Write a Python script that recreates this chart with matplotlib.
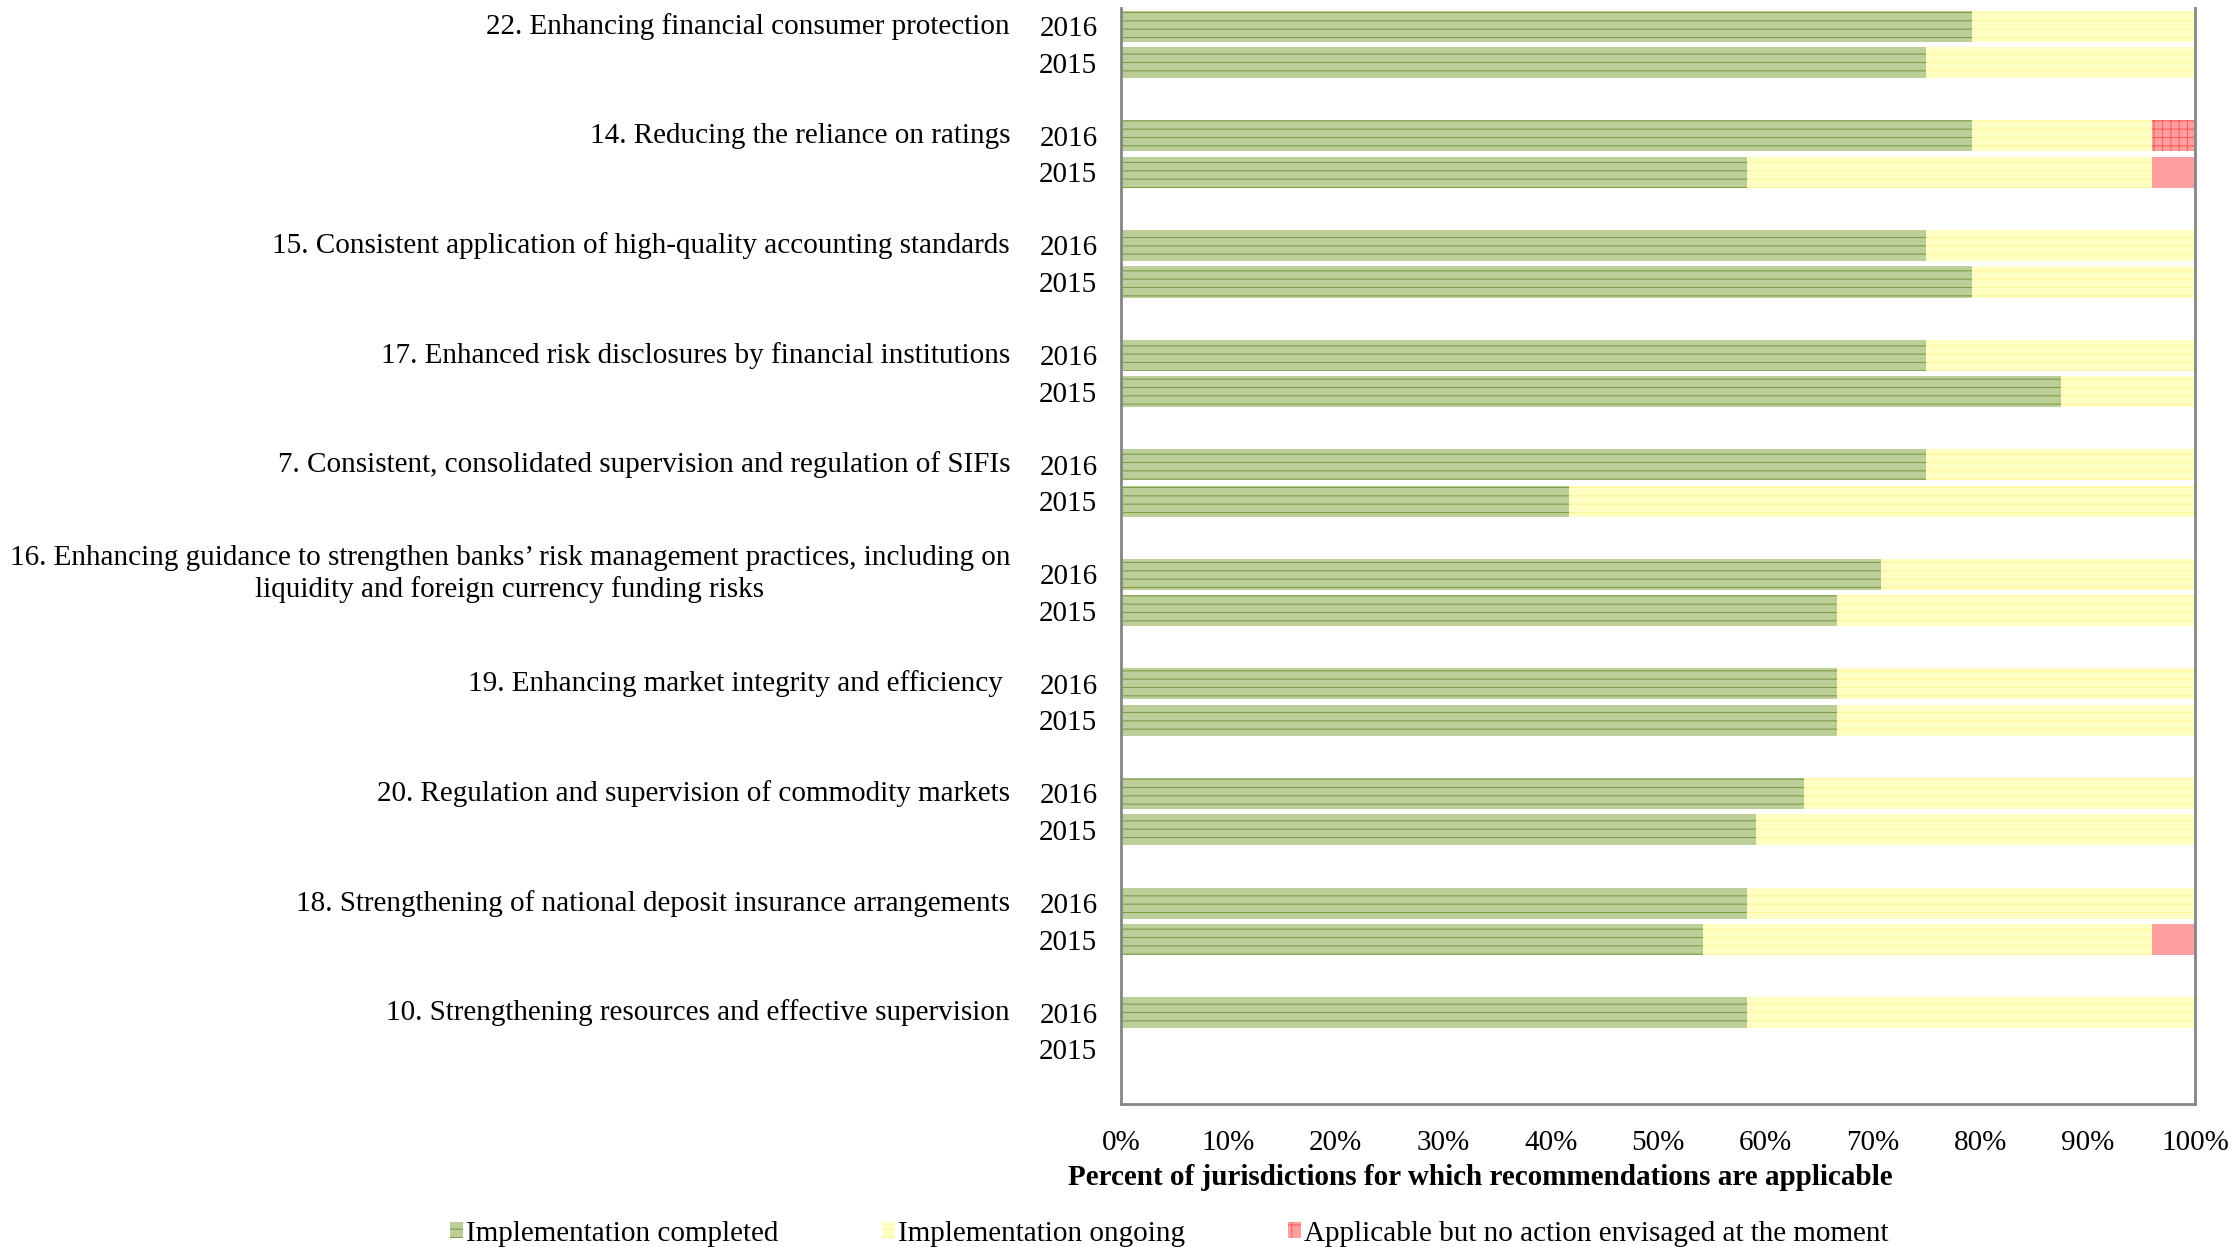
import numpy as np
import matplotlib.pyplot as plt
from matplotlib.patches import Patch
import matplotlib.transforms as mtransforms

plt.rcParams['font.family'] = ['Liberation Serif', 'DejaVu Serif']
plt.rcParams['hatch.linewidth'] = 0.8

categories = [
    '22. Enhancing financial consumer protection',
    '14. Reducing the reliance on ratings',
    '15. Consistent application of high-quality accounting standards',
    '17. Enhanced risk disclosures by financial institutions',
    '7. Consistent, consolidated supervision and regulation of SIFIs',
    '16. Enhancing guidance to strengthen banks\u2019 risk management practices, including on\nliquidity and foreign currency funding risks',
    '19. Enhancing market integrity and efficiency ',
    '20. Regulation and supervision of commodity markets',
    '18. Strengthening of national deposit insurance arrangements',
    '10. Strengthening resources and effective supervision',
]
years = ['2016', '2015']

# percent of jurisdictions (nan = no data)
completed_2016 = [79.2, 79.2, 75.0, 75.0, 75.0, 70.8, 66.7, 63.6, 58.3, 58.3]
ongoing_2016 = [20.8, 16.8, 25.0, 25.0, 25.0, 29.2, 33.3, 36.4, 41.7, 41.7]
noaction_2016 = [0, 4.0, 0, 0, 0, 0, 0, 0, 0, 0]
completed_2015 = [75.0, 58.3, 79.2, 87.5, 41.7, 66.7, 66.7, 59.1, 54.2, np.nan]
ongoing_2015 = [25.0, 37.7, 20.8, 12.5, 58.3, 33.3, 33.3, 40.9, 41.8, np.nan]
noaction_2015 = [0, 4.0, 0, 0, 0, 0, 0, 0, 4.0, np.nan]

green, green_h = '#bccf98', '#809b4c'
yellow, yellow_h = '#ffffc4', '#fff59a'
red, red_h = '#ff9f9f', '#ff5c5c'
fs = 21

fig = plt.figure(figsize=(22.39, 12.47), dpi=100)
ax = fig.add_axes([0.5007, 0.1147, 0.4796, 0.8789])

n = len(categories)
pos16 = np.arange(n) * 3
pos15 = pos16 + 1
h = 0.85

def draw(pos, comp, ong, noact, red_hatch):
    comp = np.array(comp, float)
    ong = np.array(ong, float)
    noact = np.array(noact, float)
    ok = ~np.isnan(comp)
    ax.barh(pos[ok], comp[ok], height=h, color=green, edgecolor=green_h,
            hatch='--', linewidth=0)
    ax.barh(pos[ok], ong[ok], left=comp[ok], height=h, color=yellow,
            edgecolor=yellow_h, hatch='--', linewidth=0)
    m = ok & (noact > 0)
    ax.barh(pos[m], noact[m], left=comp[m] + ong[m], height=h, color=red,
            edgecolor=red_h, hatch=red_hatch, linewidth=0)

draw(pos16, completed_2016, ongoing_2016, noaction_2016, '++')
draw(pos15, completed_2015, ongoing_2015, noaction_2015, None)

ax.set_xlim(0, 100)
ax.set_ylim(29.5, -0.5)
ax.set_xticks(np.arange(0, 101, 10))
ax.set_xticklabels([f'{v}%' for v in range(0, 101, 10)])
yt = np.ravel(np.column_stack([pos16, pos15]))
ax.set_yticks(yt)
ax.set_yticklabels(years * n)
ax.tick_params(axis='both', length=0, labelsize=fs)
ax.tick_params(axis='y', pad=17)
ax.tick_params(axis='x', pad=19)
ax.set_xlabel('Percent of jurisdictions for which recommendations are applicable',
              fontsize=fs, fontweight='bold')
ax.xaxis.label.set_va('center')
ax.xaxis.set_label_coords(0.335, -0.0675)

for s in ['left', 'right', 'bottom']:
    ax.spines[s].set_color('#868686')
    ax.spines[s].set_linewidth(2)
ax.spines['top'].set_visible(False)

trans = mtransforms.blended_transform_factory(ax.transAxes, ax.transData)
for p, label in zip(pos16, categories):
    ax.text(-0.1034, p, label, transform=trans, ha='right', va='center',
            fontsize=fs, multialignment='center', linespacing=1.25)

handles = [
    Patch(facecolor=green, edgecolor=green_h, hatch='--', linewidth=0),
    Patch(facecolor=yellow, edgecolor=yellow_h, hatch='--', linewidth=0),
    Patch(facecolor=red, edgecolor=red_h, hatch='+', linewidth=0),
]
labels = ['Implementation completed', 'Implementation ongoing',
          'Applicable but no action envisaged at the moment']
fig.legend(handles, labels, loc='center', bbox_to_anchor=(0.5222, 0.0108),
           ncol=3, frameon=False, fontsize=fs, handlelength=0.45,
           handleheight=0.5, handletextpad=0.1, columnspacing=3.55)

fig.savefig('out.png', dpi=100)
